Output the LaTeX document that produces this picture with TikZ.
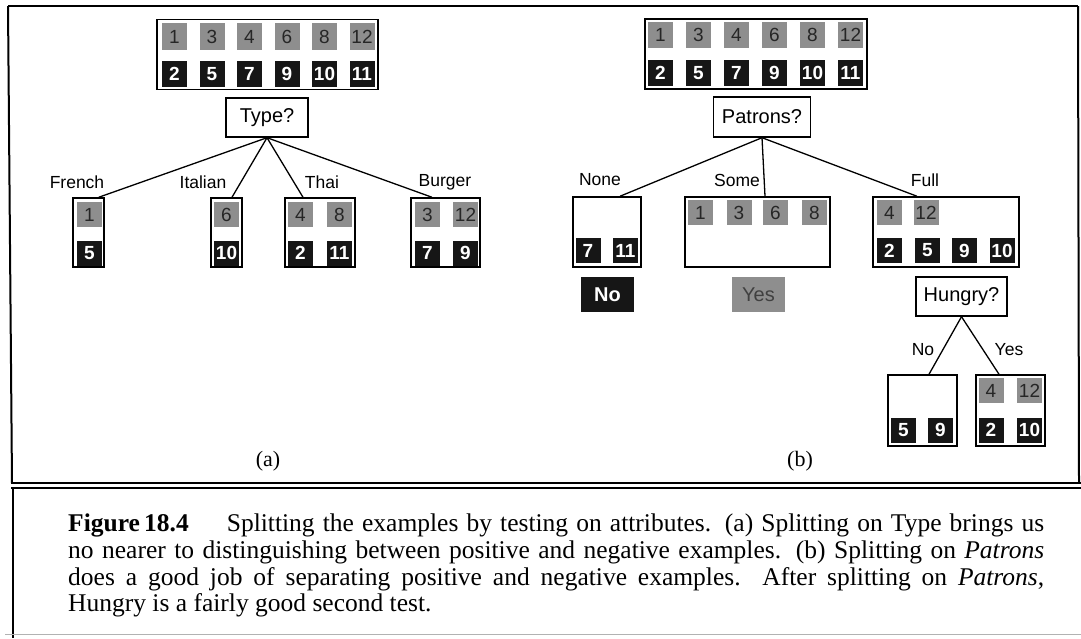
\documentclass[tikz,border=0pt]{standalone}
\usepackage{fontspec}
\setmainfont{Liberation Serif}
\setsansfont{Liberation Sans}
\usetikzlibrary{calc}
\definecolor{posgray}{RGB}{142,142,142}
\definecolor{negblack}{RGB}{22,22,22}
\newcommand\capfont{\fontsize{25.5}{27}\selectfont}
\newcommand\myjline[1]{\hbox to 976pt{\capfont\spaceskip=.25em plus .8em minus .14em\relax #1}}
\tikzset{
  posbox/.style={fill=posgray, text=black!85, minimum width=25pt, minimum height=25pt, inner sep=0pt,
    font=\sffamily\fontsize{19}{19}\selectfont},
  negbox/.style={fill=negblack, text=white, minimum width=25pt, minimum height=25pt, inner sep=0pt,
    font=\sffamily\bfseries\fontsize{19}{19}\selectfont},
  setbox/.style={draw=black, line width=1.5pt, inner sep=0pt, fill=white},
  testbox/.style={draw=black, line width=1.4pt, inner sep=0pt, fill=white,
    font=\sffamily\fontsize{20}{20}\selectfont},
  brlabel/.style={font=\sffamily\fontsize{17.5}{17.5}\selectfont, inner sep=0pt},
  conn/.style={line width=1.3pt, draw=black},
  frameline/.style={line width=2pt, draw=black},
  sublabel/.style={font=\fontsize{22}{22}\selectfont, inner sep=0pt},
  capline/.style={anchor=base west, inner sep=0pt},
}
\begin{document}
\begin{tikzpicture}[x=1pt, y=-1pt]
\useasboundingbox (0,0) rectangle (1081,638);
\fill[white] (0,0) rectangle (1081,638);

% ---------- frame ----------
\draw[frameline] (8,6) -- (1078,6);
\draw[frameline] (8,6) -- (12,483);
\draw[frameline] (1078,6) -- (1079,483);
\draw[line width=2.2pt] (11,483) -- (1081,483);
\draw[line width=1.6pt] (11,488) -- (1081,488);
\draw[line width=1.5pt] (13,488) -- (13,638);
\draw[line width=1pt, draw=black!30] (5,634) -- (1081,634);

% ---------- (a) ----------
\node[setbox, minimum width=221pt, minimum height=70pt] (atop) at (267.5,54.5) {};
\foreach \n/\x in {1/174.5, 3/212, 4/249.5, 6/287, 8/324.5, 12/362}
  \node[posbox, minimum height=27pt] (ap\n) at (\x,36.5) {\n};
\foreach \n/\x in {2/174.5, 5/212, 7/249.5, 9/287, 10/324.5, 11/362}
  \node[negbox, minimum height=26pt] (an\n) at (\x,74) {\n};

\node[testbox, minimum width=82pt, minimum height=39pt] (type) at (267,117.5) {Type?};

\node[setbox, minimum width=31pt, minimum height=69pt] (fr) at (88.5,232.5) {};
\node[posbox] (frp1) at (89.5,214.5) {1};
\node[negbox] (frn5) at (89.5,253) {5};

\node[setbox, minimum width=31pt, minimum height=69pt] (it) at (226.5,232.5) {};
\node[posbox] (itp6) at (226.5,214.5) {6};
\node[negbox] (itn10) at (226.5,253) {10};

\node[setbox, minimum width=70pt, minimum height=69pt] (th) at (320,232.5) {};
\node[posbox] (thp4) at (300.5,214.5) {4};
\node[posbox] (thp8) at (339.5,214.5) {8};
\node[negbox] (thn2) at (300.5,253) {2};
\node[negbox] (thn11) at (339.5,253) {11};

\node[setbox, minimum width=69pt, minimum height=69pt] (bu) at (445.5,232.5) {};
\node[posbox] (bup3) at (427.5,214.5) {3};
\node[posbox] (bup12) at (465.5,214.5) {12};
\node[negbox] (bun7) at (427.5,253) {7};
\node[negbox] (bun9) at (465.5,253) {9};

\draw[conn] (type.south) -- ([xshift=-6pt]fr.north east);
\draw[conn] (type.south) -- ([xshift=5.5pt]it.north);
\draw[conn] (type.south) -- ([xshift=-17pt]th.north);
\draw[conn] (type.south) -- ([xshift=-13.5pt]bu.north);

\node[brlabel] (lfr) at (77,182) {French};
\node[brlabel] (lit) at (203,182) {Italian};
\node[brlabel] (lth) at (322,182) {Thai};
\node[brlabel] (lbu) at (445,182) {Burger};

\node[sublabel] (capa) at (268,461) {(a)};

% ---------- (b) ----------
\node[setbox, minimum width=222pt, minimum height=70pt] (btop) at (756,54) {};
\foreach \n/\x in {1/660.5, 3/698.5, 4/736.5, 6/774.5, 8/812.5, 12/850.5}
  \node[posbox, minimum height=26pt] (bp\n) at (\x,35) {\n};
\foreach \n/\x in {2/660.5, 5/698.5, 7/736.5, 9/774.5, 10/812.5, 11/850.5}
  \node[negbox, minimum height=26pt] (bn\n) at (\x,73) {\n};

\node[testbox, minimum width=97pt, minimum height=40pt] (pat) at (762,117) {Patrons?};

\node[setbox, minimum width=68pt, minimum height=70pt] (none) at (607,232) {};
\node[negbox] (nonen7) at (588,250.5) {7};
\node[negbox] (nonen11) at (625.5,250.5) {11};
\node[fill=negblack, text=white, minimum width=53pt, minimum height=35pt, inner sep=0pt,
  font=\sffamily\bfseries\fontsize{20}{20}\selectfont] (no) at (607.5,294.5) {No};

\node[setbox, minimum width=145pt, minimum height=70pt] (some) at (757.5,232) {};
\node[posbox] (somep1) at (700.5,212.5) {1};
\node[posbox] (somep3) at (739,212.5) {3};
\node[posbox] (somep6) at (775.5,212.5) {6};
\node[posbox] (somep8) at (814.5,212.5) {8};
\node[fill=posgray, text=black!75, minimum width=53pt, minimum height=35pt, inner sep=0pt,
  font=\sffamily\fontsize{20}{20}\selectfont] (yes) at (758.5,294.5) {Yes};

\node[setbox, minimum width=146pt, minimum height=70pt] (full) at (946,232) {};
\node[posbox] (fullp4) at (889.5,212.5) {4};
\node[posbox] (fullp12) at (926,212.5) {12};
\node[negbox] (fulln2) at (889.5,250.5) {2};
\node[negbox] (fulln5) at (927.5,250.5) {5};
\node[negbox] (fulln9) at (964.5,250.5) {9};
\node[negbox] (fulln10) at (1002,250.5) {10};

\draw[conn] (pat.south) -- ([xshift=13pt]none.north);
\draw[conn] (pat.south) -- ([xshift=7.5pt]some.north);
\draw[conn] (pat.south) -- ([xshift=-29pt]full.north);

\node[brlabel] (lnone) at (600,180) {None};
\node[brlabel] (lsome) at (737,180) {Some};
\node[brlabel] (lfull) at (925,180) {Full};

\node[testbox, minimum width=91pt, minimum height=39pt] (hun) at (961.5,296.5) {Hungry?};

\node[setbox, minimum width=69pt, minimum height=71pt] (hno) at (922.5,410.5) {};
\node[negbox] (hnon5) at (903.5,430) {5};
\node[negbox] (hnon9) at (940.5,430) {9};

\node[setbox, minimum width=69pt, minimum height=71pt] (hyes) at (1010.5,410.5) {};
\node[posbox] (hyesp4) at (991,390.5) {4};
\node[posbox] (hyesp12) at (1029.5,390.5) {12};
\node[negbox] (hyesn2) at (991,430) {2};
\node[negbox] (hyesn10) at (1029.5,430) {10};

\draw[conn] (hun.south) -- ([xshift=6.5pt]hno.north);
\draw[conn] (hun.south) -- ([xshift=-11.5pt]hyes.north);

\node[brlabel] (lhno) at (923,350) {No};
\node[brlabel] (lhyes) at (1009,350) {Yes};

\node[sublabel] (capb) at (800,461) {(b)};

% ---------- caption ----------
\node[capline] (cap1) at (68,531) {\myjline{\textbf{Figure\,18.4}\hspace{38pt}Splitting the examples by testing on attributes. (a) Splitting on Type brings us}};
\node[capline] (cap2) at (68,558) {\myjline{no nearer to distinguishing between positive and negative examples. (b) Splitting on \textit{Patrons}}};
\node[capline] (cap3) at (68,585) {\myjline{does a good job of separating positive and negative examples.\ \ After splitting on \textit{Patrons},}};
\node[capline] (cap4) at (68,611) {\capfont Hungry is a fairly good second test.};
\end{tikzpicture}
\end{document}
